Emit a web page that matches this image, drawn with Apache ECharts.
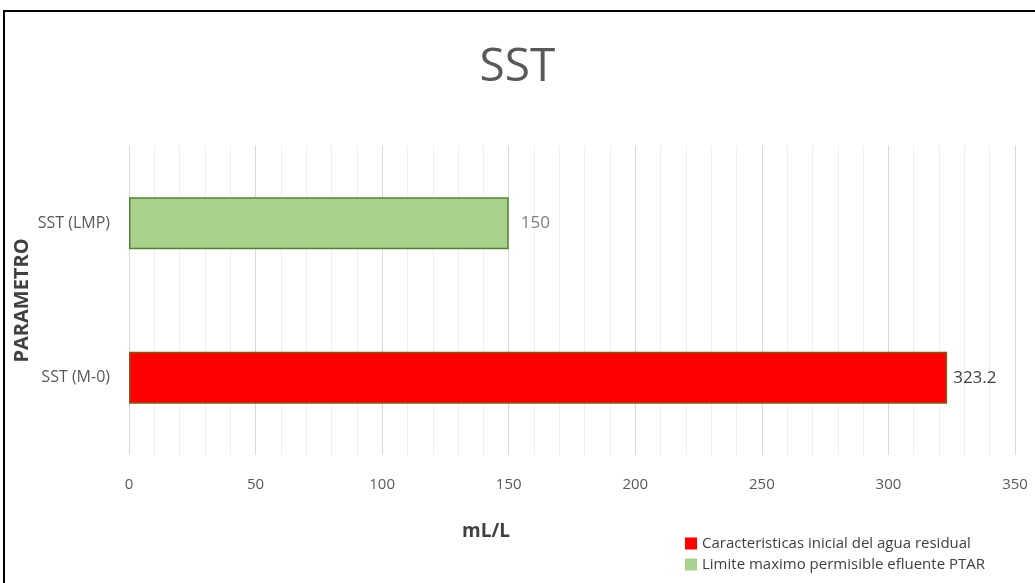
<!DOCTYPE html>
<html>
<head>
<meta charset="utf-8">
<script src="https://cdn.jsdelivr.net/npm/echarts@6/dist/echarts.min.js"></script>
<style>
  html, body { margin: 0; padding: 0; background: #fff; }
  #chart { width: 1035px; height: 583px; }
</style>
</head>
<body>
<div id="chart"></div>
<script>
// categories listed bottom to top
var categories = ["SST (M-0)", "SST (LMP)"];
var seriesNames = ["Caracteristicas inicial del agua residual", "Limite maximo permisible efluente PTAR"];
var valuesInicial = [323.2, null];
var valuesLimite = [null, 150];
var xTicks = [0, 50, 100, 150, 200, 250, 300, 350];

var chart = echarts.init(document.getElementById("chart"));
var font = "'Open Sans', 'Noto Sans', sans-serif";

chart.setOption({
  backgroundColor: "#fff",
  animation: false,
  title: {
    text: "SST",
    left: "center",
    top: 40,
    textStyle: {
      color: "#595959",
      fontSize: 46,
      fontWeight: 400,
      fontFamily: font
    }
  },
  grid: {
    left: 129,
    right: 20,
    top: 146,
    bottom: 128,
    containLabel: false,
    outerBoundsMode: "none"
  },
  legend: {
    orient: "vertical",
    left: 680,
    top: 531,
    itemWidth: 12,
    itemHeight: 12,
    itemGap: 6,
    icon: "rect",
    itemStyle: { borderWidth: 0 },
    textStyle: {
      color: "#404040",
      fontSize: 15,
      fontFamily: font
    },
    data: seriesNames
  },
  xAxis: {
    type: "value",
    min: xTicks[0],
    max: xTicks[xTicks.length - 1],
    interval: 50,
    name: "mL/L",
    nameLocation: "middle",
    nameGap: 67,
    nameMoveOverlap: false,
    nameTextStyle: {
      color: "#404040",
      fontSize: 19,
      fontWeight: "bold",
      fontFamily: font,
      padding: [0, 172, 0, 0]
    },
    axisLine: { show: false },
    axisTick: { show: false },
    axisLabel: {
      color: "#595959",
      fontSize: 15,
      fontFamily: font,
      margin: 22
    },
    splitLine: {
      show: true,
      lineStyle: { color: "#d9d9d9", width: 1 }
    },
    minorTick: { show: false, splitNumber: 5 },
    minorSplitLine: {
      show: true,
      lineStyle: { color: "#efefef", width: 1 }
    }
  },
  yAxis: {
    type: "category",
    data: categories,
    name: "PARAMETRO",
    nameLocation: "middle",
    nameRotate: 90,
    nameGap: 97,
    nameMoveOverlap: false,
    nameTextStyle: {
      color: "#404040",
      fontSize: 20,
      fontWeight: "bold",
      fontFamily: font
    },
    axisLine: { show: false },
    axisTick: { show: false },
    axisLabel: {
      color: "#595959",
      fontSize: 16,
      fontFamily: font,
      margin: 19
    },
    splitLine: { show: false }
  },
  graphic: [
    {
      type: "rect",
      shape: { x: 4, y: 11, width: 1040, height: 590 },
      style: { fill: "none", stroke: "#000", lineWidth: 2 },
      silent: true
    }
  ],
  series: [
    {
      name: seriesNames[0],
      type: "bar",
      data: valuesInicial,
      barWidth: 52,
      barGap: "-100%",
      itemStyle: {
        color: "#ff0000",
        borderColor: "#7f5a1a",
        borderWidth: 1.5
      },
      label: {
        show: true,
        position: "right",
        distance: 6,
        color: "#404040",
        fontSize: 17,
        fontFamily: font
      }
    },
    {
      name: seriesNames[1],
      type: "bar",
      data: valuesLimite,
      barWidth: 52,
      barGap: "-100%",
      itemStyle: {
        color: "#a9d18e",
        borderColor: "#548235",
        borderWidth: 1.5
      },
      label: {
        show: true,
        position: "right",
        distance: 12,
        color: "#7f7f7f",
        fontSize: 17,
        fontFamily: font
      }
    }
  ]
});
</script>
</body>
</html>
